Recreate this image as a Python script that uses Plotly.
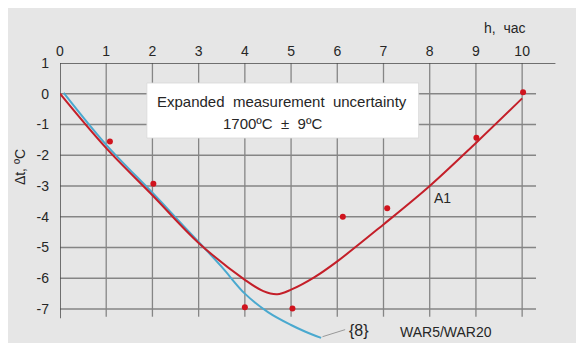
import plotly.graph_objects as go

# ---- data ----
x_ticks = [0, 1, 2, 3, 4, 5, 6, 7, 8, 9, 10]
y_ticks = [1, 0, -1, -2, -3, -4, -5, -6, -7]

meas_x = [1.08, 2.02, 4.0, 5.03, 6.12, 7.08, 9.01, 10.02]
meas_y = [-1.55, -2.93, -6.94, -6.98, -4.0, -3.72, -1.43, 0.05]

a1_x = [0, 1, 2, 3, 4, 4.4, 4.7, 5, 5.5, 6, 7, 8, 9, 10]
a1_y = [0, -1.77, -3.3, -4.85, -6.05, -6.42, -6.52, -6.37, -5.97, -5.45, -4.25, -3.0, -1.6, -0.15]

ref8_x = [0.08, 1, 2, 2.5, 3, 3.5, 4, 4.5, 5, 5.3, 5.65]
ref8_y = [0.03, -1.66, -3.22, -4.02, -4.82, -5.63, -6.5, -7.1, -7.52, -7.73, -7.94]

RED = "#c41f29"
BLUE = "#4aa9cf"
GRID = "#858585"
AXIS = "#474747"
TXT = "#262626"
FONT = "Liberation Sans, Arial, sans-serif"

fig = go.Figure()

shapes = []
# grid
for xv in x_ticks[1:]:
    shapes.append(dict(type="line", xref="x", yref="y", x0=xv, x1=xv, y0=-7.25, y1=1,
                       line=dict(color=GRID, width=1.3), layer="below"))
for yv in y_ticks[1:]:
    shapes.append(dict(type="line", xref="x", yref="y", x0=0, x1=10.3, y0=yv, y1=yv,
                       line=dict(color=GRID, width=1.3), layer="below"))
# axes lines
shapes.append(dict(type="line", xref="x", yref="y", x0=0, x1=10.72, y0=1, y1=1,
                   line=dict(color=AXIS, width=1.5), layer="below"))
shapes.append(dict(type="line", xref="x", yref="y", x0=0, x1=0, y0=1, y1=-7.3,
                   line=dict(color=AXIS, width=1.5), layer="below"))
# uncertainty box
shapes.append(dict(type="rect", xref="x", yref="y", x0=1.88, x1=7.76, y0=-1.44, y1=0.35,
                   fillcolor="white", line=dict(color="#d8d8d8", width=0.8), layer="below"))
# leader line for {8}
shapes.append(dict(type="line", xref="x", yref="y", x0=5.68, x1=6.17, y0=-7.9, y1=-7.67,
                   line=dict(color="#999999", width=1)))

fig.add_trace(go.Scatter(x=ref8_x, y=ref8_y, mode="lines", line=dict(color=BLUE, width=2, shape="spline"),
                         hoverinfo="skip", showlegend=False))
fig.add_trace(go.Scatter(x=a1_x, y=a1_y, mode="lines", line=dict(color=RED, width=2, shape="spline"),
                         hoverinfo="skip", showlegend=False))
fig.add_trace(go.Scatter(x=meas_x, y=meas_y, mode="markers", marker=dict(color="#d0141e", size=6),
                         hoverinfo="skip", showlegend=False))

annotations = [
    dict(x=4.8, y=-0.25, xref="x", yref="y", text="Expanded  measurement  uncertainty",
         showarrow=False, font=dict(size=15, color=TXT, family=FONT)),
    dict(x=4.6, y=-0.98, xref="x", yref="y", text="1700ºC  ±  9ºC",
         showarrow=False, font=dict(size=15, color=TXT, family=FONT)),
    dict(x=8.28, y=-3.39, xref="x", yref="y", text="A1", showarrow=False,
         font=dict(size=14, color=TXT, family=FONT)),
    dict(x=6.48, y=-7.69, xref="x", yref="y", text="{8}", showarrow=False,
         font=dict(size=16, color=TXT, family=FONT)),
    dict(x=8.35, y=-7.76, xref="x", yref="y", text="WAR5/WAR20", showarrow=False,
         font=dict(size=14, color=TXT, family=FONT)),
    dict(x=0.838, y=1.122, xref="paper", yref="paper", xanchor="center", yanchor="middle",
         text="h,  час", showarrow=False, font=dict(size=14, color=TXT, family=FONT)),
    dict(x=-0.0753, y=0.636, xref="paper", yref="paper", xanchor="center", yanchor="middle",
         text="Δt, ºC", showarrow=False, textangle=-90, font=dict(size=14, color=TXT, family=FONT)),
]

fig.update_layout(
    width=584, height=343,
    margin=dict(l=52, r=1, t=55, b=2, autoexpand=False),
    paper_bgcolor="#e6e6e6", plot_bgcolor="rgba(0,0,0,0)",
    shapes=shapes, annotations=annotations,
    xaxis=dict(range=[0, 11.49], side="top", tickvals=x_ticks, ticktext=[str(v) for v in x_ticks],
               showgrid=False, zeroline=False, showline=False, ticks="", automargin=False,
               tickfont=dict(size=14, color=TXT, family=FONT), ticklabelstandoff=3),
    yaxis=dict(range=[-8.3, 1], tickvals=y_ticks, ticktext=[str(v) for v in y_ticks],
               showgrid=False, zeroline=False, showline=False, ticks="", automargin=False,
               tickfont=dict(size=14, color=TXT, family=FONT), ticklabelstandoff=10),
)

fig.write_html("out.html")
